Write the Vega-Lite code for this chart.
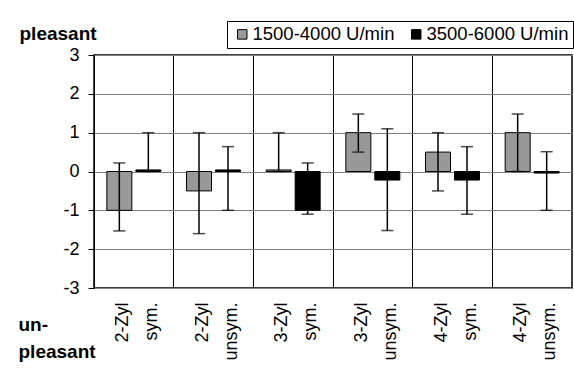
{
  "$schema": "https://vega.github.io/schema/vega-lite/v6.json",
  "width": 478,
  "height": 233,
  "autosize": {"type": "none"},
  "padding": {"left": 94, "top": 55, "right": 2, "bottom": 86},
  "background": "white",
  "config": {
    "font": "Liberation Sans",
    "view": {"stroke": "black", "strokeWidth": 1.5},
    "axis": {"labelColor": "black", "titleColor": "black", "labelFontSize": 18, "labelFont": "Liberation Sans"},
    "axisY": {
      "tickCount": 7,
      "labelOverlap": false,
      "titleFontSize": 19,
      "titleFontWeight": "bold",
      "titleAngle": 0,
      "titleAlign": "left",
      "titleBaseline": "alphabetic",
      "titleX": -75,
      "titleY": -16,
      "domain": false,
      "tickColor": "black",
      "tickSize": 6,
      "labelPadding": 9,
      "grid": true,
      "gridColor": "#808080",
      "gridWidth": 1,
      "gridOpacity": 1
    }
  },
  "data": {
    "values": [
      {"group": "2-Zyl|sym.", "series": "1500-4000 U/min", "value": -1.0, "lo": -1.53, "hi": 0.22},
      {"group": "2-Zyl|sym.", "series": "3500-6000 U/min", "value": 0.04, "lo": 0.0, "hi": 1.0},
      {"group": "2-Zyl|unsym.", "series": "1500-4000 U/min", "value": -0.5, "lo": -1.6, "hi": 1.0},
      {"group": "2-Zyl|unsym.", "series": "3500-6000 U/min", "value": 0.04, "lo": -1.0, "hi": 0.64},
      {"group": "3-Zyl|sym.", "series": "1500-4000 U/min", "value": 0.04, "lo": 0.0, "hi": 1.0},
      {"group": "3-Zyl|sym.", "series": "3500-6000 U/min", "value": -1.0, "lo": -1.1, "hi": 0.22},
      {"group": "3-Zyl|unsym.", "series": "1500-4000 U/min", "value": 1.0, "lo": 0.5, "hi": 1.48},
      {"group": "3-Zyl|unsym.", "series": "3500-6000 U/min", "value": -0.22, "lo": -1.52, "hi": 1.1},
      {"group": "4-Zyl|sym.", "series": "1500-4000 U/min", "value": 0.5, "lo": -0.5, "hi": 1.0},
      {"group": "4-Zyl|sym.", "series": "3500-6000 U/min", "value": -0.22, "lo": -1.1, "hi": 0.64},
      {"group": "4-Zyl|unsym.", "series": "1500-4000 U/min", "value": 1.0, "lo": 0.0, "hi": 1.48},
      {"group": "4-Zyl|unsym.", "series": "3500-6000 U/min", "value": -0.04, "lo": -1.0, "hi": 0.51}
    ]
  },
  "encoding": {
    "x": {
      "field": "group",
      "type": "nominal",
      "sort": null,
      "scale": {"paddingInner": 0, "paddingOuter": 0},
      "axis": {
        "title": ["un-", "pleasant"],
        "titleFontSize": 19,
        "titleFontWeight": "bold",
        "titleAngle": 0,
        "titleAlign": "left",
        "titleBaseline": "alphabetic",
        "titleX": -76,
        "titleY": 42,
        "titleLineHeight": 27,
        "labelExpr": "split(indexof(datum.label, 'unsym') >= 0 ? replace(datum.label, '|', '\u00a0\u00a0\u00a0|') : datum.label, '|')",
        "labelAngle": 270,
        "labelAlign": "right",
        "labelBaseline": "middle",
        "labelLineHeight": 29,
        "labelPadding": 14,
        "labelOffset": -11,
        "ticks": false,
        "domain": false,
        "grid": true,
        "gridColor": "black",
        "gridWidth": 1,
        "gridOpacity": 1,
        "bandPosition": 0
      }
    },
    "xOffset": {
      "field": "series",
      "type": "nominal",
      "scale": {"paddingInner": 0.138, "paddingOuter": 0.4425}
    }
  },
  "layer": [
    {
      "mark": {"type": "bar", "stroke": "black", "strokeWidth": 1},
      "encoding": {
        "y": {
          "field": "value",
          "type": "quantitative",
          "scale": {"domain": [-3, 3], "nice": false},
          "axis": {"values": [-3, -2, -1, 0, 1, 2, 3], "title": "pleasant", "labelExpr": "toString(datum.value)"}
        },
        "color": {
          "field": "series",
          "type": "nominal",
          "scale": {"range": ["#999999", "#000000"]},
          "legend": {
            "title": null,
            "orient": "none",
            "legendX": 133,
            "legendY": -34,
            "direction": "horizontal",
            "symbolType": "square",
            "symbolSize": 90,
            "symbolStrokeColor": "black",
            "symbolStrokeWidth": 1,
            "symbolOffset": 2,
            "labelFontSize": 18.5,
            "labelColor": "black",
            "labelOffset": 1,
            "columnPadding": 10,
            "padding": 4,
            "strokeColor": "black",
            "fillColor": "white"
          }
        }
      }
    },
    {
      "mark": {"type": "rule", "color": "black", "strokeWidth": 1.5},
      "encoding": {
        "y": {"field": "lo", "type": "quantitative", "axis": {"values": [-3, -2, -1, 0, 1, 2, 3], "title": "pleasant", "labelExpr": "toString(datum.value)"}},
        "y2": {"field": "hi"}
      }
    },
    {
      "mark": {"type": "tick", "color": "black", "size": 12, "thickness": 1.5},
      "encoding": {
        "y": {"field": "lo", "type": "quantitative", "axis": {"values": [-3, -2, -1, 0, 1, 2, 3], "title": "pleasant", "labelExpr": "toString(datum.value)"}}
      }
    },
    {
      "mark": {"type": "tick", "color": "black", "size": 12, "thickness": 1.5},
      "encoding": {
        "y": {"field": "hi", "type": "quantitative", "axis": {"values": [-3, -2, -1, 0, 1, 2, 3], "title": "pleasant", "labelExpr": "toString(datum.value)"}}
      }
    }
  ]
}
